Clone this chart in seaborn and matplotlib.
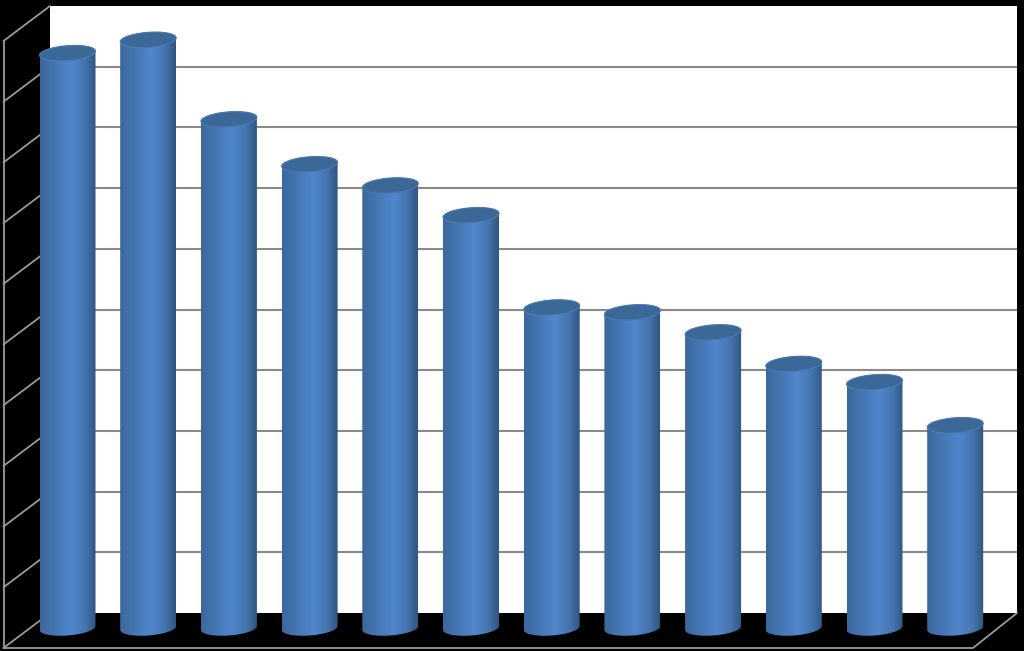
import numpy as np
import pandas as pd
import seaborn as sns
import matplotlib.pyplot as plt
from matplotlib.colors import LinearSegmentedColormap
from matplotlib.patches import PathPatch
from matplotlib.path import Path

# The chart has no visible labels, so categories are just the bar order
categories = [str(i) for i in range(1, 13)]
values = [9.47, 9.69, 8.38, 7.64, 7.29, 6.80, 5.28, 5.20, 4.87, 4.35, 4.05, 3.34]
grid_ticks = list(range(1, 10))

W, H = 1024, 651
sns.set_theme(style='white')

fig = plt.figure(figsize=(W / 100, H / 100), dpi=100, facecolor='black')

# back wall, floor and side wall
back = fig.add_axes([50 / W, (H - 613) / H, 967 / W, 607 / H], facecolor='white')
back.set_xlim(0, 1)
back.set_ylim(0, 10)
back.set_xticks([])
back.set_yticks(grid_ticks)
back.set_yticklabels([])
back.grid(True, axis='y', color='#8a8a8a', lw=1.5)
back.tick_params(length=0)
sns.despine(ax=back, left=True, bottom=True)

line_col = '#9a9a9a'
dx, dy = -46.5 / 967, -35 / 60.7
for v in range(0, 11):
    back.plot([0, dx], [v, v + dy], color=line_col, lw=1.3, clip_on=False)
back.plot([dx, dx], [dy, 10 + dy], color=line_col, lw=1.3, clip_on=False)
back.plot([dx, 923 / 967, 1], [dy, dy, 0], color=line_col, lw=1.3, clip_on=False)

# bars sit on a transparent axes in front of the wall
ax = fig.add_axes([0, 0, 1, 1], facecolor='none')
df = pd.DataFrame({'category': categories, 'value': values})
sns.barplot(data=df, x='category', y='value', color='#4f81bd', width=56 / 80.7, ax=ax)

# scale: category 0 at x=67.5 px, value 0 at y=628 px, one unit = 60.7 px
xlim = (-67.5 / 80.7, (W - 67.5) / 80.7)
ylim = ((628 - H) / 60.7, 628 / 60.7)
ax.set_xlim(xlim)
ax.set_ylim(ylim)
ax.axis('off')

body_cmap = LinearSegmentedColormap.from_list('cyl', [
    (0.0, '#3c679c'), (0.55, '#5087cc'), (0.8, '#4675b0'), (1.0, '#2f5680')])
gradient = np.linspace(0, 1, 256).reshape(1, -1)


def rim(cx, half, cy, start=0.0, stop=2 * np.pi):
    # slightly tilted ellipse, right side a little higher
    tt = np.linspace(start, stop, 60)
    b = 7.5 / 60.7
    k = 2 / 60.7
    return cx + half * np.cos(tt), cy + b * np.sin(tt) + k * np.cos(tt)


for bar in ax.patches:
    left, width, top = bar.get_x(), bar.get_width(), bar.get_height()
    bar.set_visible(False)
    cx, half = left + width / 2, width / 2

    # body outline: top rim centre line down the sides, round the bottom rim
    bx, by = rim(cx, half, 0, np.pi, 2 * np.pi)
    tx, ty = rim(cx, half, top, 0, np.pi)
    verts = np.column_stack([np.r_[bx, tx], np.r_[by, ty]])
    clip = PathPatch(Path(verts, closed=False), transform=ax.transData, fc='none', ec='none')
    ax.add_patch(clip)
    im = ax.imshow(gradient, extent=(left, left + width, -0.3, top + 0.3),
                   aspect='auto', cmap=body_cmap, zorder=2)
    im.set_clip_path(clip)

    ex, ey = rim(cx, half, top)
    ax.fill(ex, ey, facecolor='#3c6898', edgecolor='#4a7ab4', lw=0.8, zorder=3)

ax.set_xlim(xlim)
ax.set_ylim(ylim)

fig.savefig('out.png', dpi=100, facecolor='black')
